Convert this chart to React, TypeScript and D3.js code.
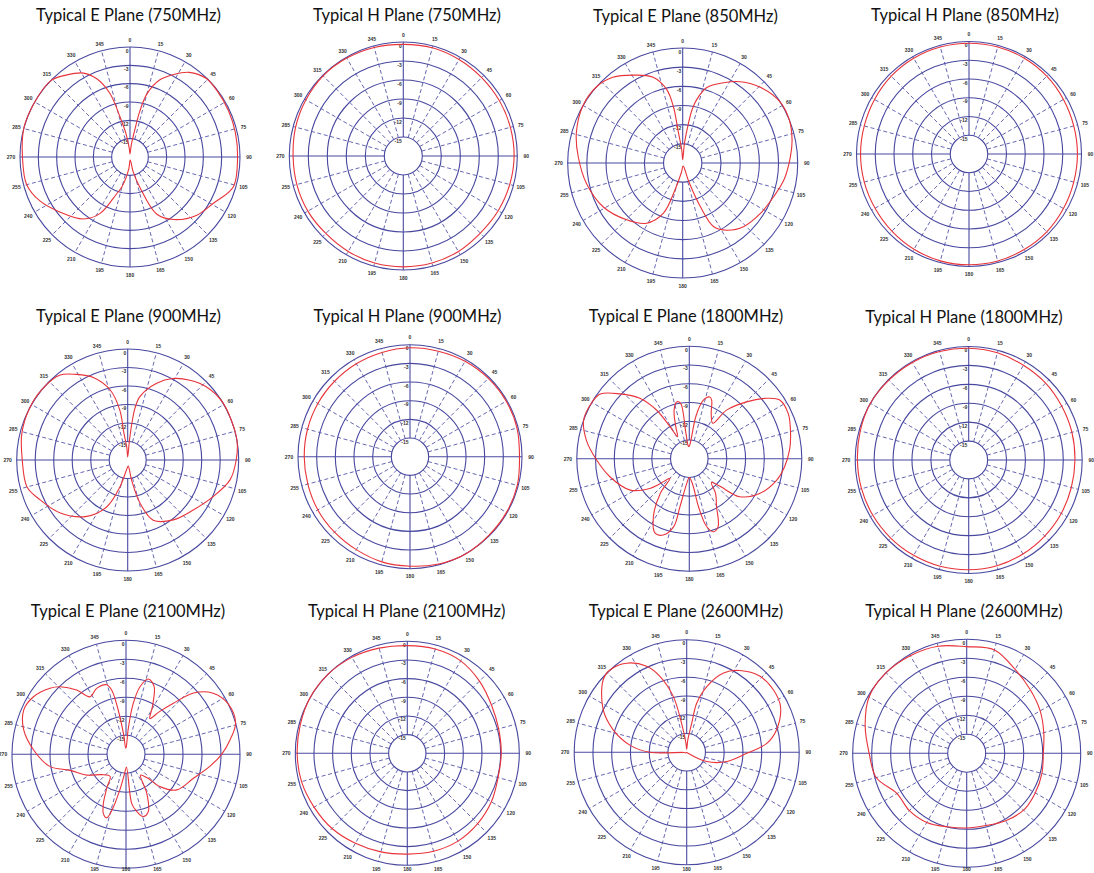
import React from "react";
import * as d3 from "d3";

type Pt = [number, number]; // [angle in degrees, level in dB]

const DB_MIN = -18;
const RING_TICKS = [0, -3, -6, -9, -12, -15];
const ANGLE_TICKS = d3.range(0, 360, 15);

const TITLES = [
  "Typical E Plane (750MHz)",
  "Typical H Plane (750MHz)",
  "Typical E Plane (850MHz)",
  "Typical H Plane (850MHz)",
  "Typical E Plane (900MHz)",
  "Typical H Plane (900MHz)",
  "Typical E Plane (1800MHz)",
  "Typical H Plane (1800MHz)",
  "Typical E Plane (2100MHz)",
  "Typical H Plane (2100MHz)",
  "Typical E Plane (2600MHz)",
  "Typical H Plane (2600MHz)",
];

const E750: Pt[] = [
  [0, -17.5], [6, -16], [10, -13.5], [12, -10.5], [15, -7.3], [21, -4.5], [28, -2.7], [35, -1.1],
  [44, -0.1], [53, -0.1], [65, -0.2], [77, -0.3], [90, -0.4], [106, -0.4], [119, -2.4], [131, -3.5],
  [145, -5.5], [155, -7.7], [162, -12.8], [168, -15.5], [176, -17.5], [186, -16], [195, -13],
  [200, -11.6], [208, -7.5], [217, -5.3], [232, -3.4], [244, -1.6], [255, -0.5], [270, -0.4],
  [285, 0], [300, 0], [314, 0], [322, -1], [331, -2.3], [337, -4.1], [342.5, -7.1], [346, -11.2],
  [350, -14], [355, -16.5],
];

const H750: Pt[] = [
  [0, -0.37], [15, -0.3], [30, -0.4], [45, -0.5], [60, -0.5], [75, -0.5], [90, -0.5], [105, -0.6],
  [120, -0.7], [135, -0.8], [150, -0.6], [165, -0.5], [180, -0.5], [195, -0.5], [210, -0.6],
  [225, -0.7], [240, -0.6], [255, -0.6], [270, -0.6], [285, -0.4], [300, -0.25], [315, -0.1],
  [330, -0.15], [345, -0.25],
];

const E850: Pt[] = [
  [0, -17.5], [5, -15], [8, -12], [10, -9.5], [12.5, -7.8], [17.7, -5.6], [27, -3.9], [35.4, -2.4],
  [46, -1], [58, 0], [68, 0], [78, -0.5], [86.5, -1.1], [99, -1.9], [110, -2.8], [123, -3.5],
  [136, -4.2], [146.6, -5.4], [154, -6.9], [158, -10.7], [162, -15], [172, -17.5], [188, -16.5],
  [196, -13.6], [201, -9.6], [211, -7], [224.7, -5.5], [241, -3.8], [258, -2.6], [273.7, -1.6],
  [285.8, -0.7], [299.7, 0], [311.7, 0], [320.8, -0.7], [330.5, -2.2], [341, -3.8], [347.7, -6.2],
  [350.6, -9], [352, -13.2], [356, -16],
];

const H850: Pt[] = [
  [0, -0.27], [15, -0.27], [30, -0.3], [45, -0.4], [60, -0.55], [75, -0.65], [90, -0.65],
  [105, -0.65], [120, -0.55], [135, -0.4], [150, -0.35], [165, -0.27], [180, -0.27], [195, -0.3],
  [210, -0.4], [225, -0.55], [240, -0.65], [255, -0.65], [270, -0.65], [285, -0.65], [300, -0.55],
  [315, -0.4], [330, -0.3], [345, -0.27],
];

const E900: Pt[] = [
  [0, -17.5], [5, -15], [6.5, -12], [8, -9.5], [11, -7.5], [20.7, -4.7], [29, -2.9], [38, -1.6],
  [47, -0.6], [58, 0], [69, 0], [80, 0], [90, -0.4], [101, -1.1], [113, -2.9], [127, -4.6],
  [142.7, -5.8], [157, -7.4], [164, -10.7], [169, -14.7], [175, -17], [186, -16.5], [196, -13.5],
  [204, -9.7], [216, -6.7], [231.8, -4.1], [245.5, -2.4], [255, -1.1], [270, -0.9], [284, -0.3],
  [298, 0], [310, 0], [321.5, -0.4], [329, -1.8], [337.4, -3.5], [346, -6.3], [351, -9.8],
  [352, -13.6], [356, -16],
];

const H900: Pt[] = [
  [0, -0.5], [15, -0.45], [30, -0.3], [45, -0.2], [60, -0.15], [75, -0.2], [90, -0.4], [105, -0.15],
  [120, -0.1], [135, -0.1], [150, 0], [165, -0.15], [180, -0.4], [195, -0.5], [210, -0.75],
  [225, -0.85], [240, -0.9], [255, -1], [270, -1], [285, -0.95], [300, -0.9], [315, -0.85],
  [330, -0.75], [345, -0.65],
];

const E1800: Pt[] = [
  [0, -16], [5, -15], [9, -11], [13.4, -8.4], [18.4, -7.6], [21, -8], [26, -10], [33.4, -11.2],
  [37.5, -8.2], [45.2, -5.1], [52, -2.3], [57, -0.75], [65.4, -0.6], [76, -1.3], [85, -1.9],
  [94.8, -2.7], [103.7, -3.6], [116, -5.4], [127, -7.9], [132, -11.4], [137, -12.8], [143, -11],
  [150.3, -9.2], [157, -6.2], [161.8, -5.7], [165.7, -6.8], [169, -10], [173, -14], [180, -15],
  [186, -14], [191, -10.2], [193, -6.8], [198.8, -5.1], [204.7, -4.9], [211.8, -7.1], [220, -10.8],
  [224.5, -13.6], [230, -11.5], [233, -10.1], [242, -7.3], [257, -5], [269, -3.2], [280, -1.3],
  [290, 0], [300, 0], [306, -0.4], [313, -2.8], [320.7, -5.5], [326, -8.6], [328.9, -12],
  [332, -14], [337, -12.5], [342.5, -9.9], [347.5, -8.7], [351, -9], [352.5, -13.9], [356, -16],
];

const H1800: Pt[] = [
  [0, -0.27], [15, -0.4], [30, -0.65], [45, -0.75], [60, -0.95], [75, -1.05], [90, -1.15],
  [105, -1.15], [120, -1.05], [135, -0.95], [150, -0.8], [165, -0.65], [180, -0.6], [195, -0.55],
  [210, -0.55], [225, -0.5], [240, -0.45], [255, -0.4], [270, -0.35], [285, -0.2], [300, 0],
  [315, -0.1], [330, -0.15], [345, -0.2],
];

const E2100: Pt[] = [
  [0, -17], [5, -14], [8, -10], [11.7, -7.1], [16.6, -5.6], [22.5, -6.4], [29, -9.4], [33.7, -11.2],
  [38, -9.5], [42.9, -7], [47.8, -3.6], [55, -1.2], [63.9, 0], [74, 0], [82, -1.4], [90, -2.9],
  [98, -4.6], [109.6, -6.7], [125, -8.2], [133.6, -10.6], [138, -13], [145, -14], [152, -11],
  [158.7, -8.3], [164.5, -7.8], [170, -9], [173.4, -10.2], [178, -16], [184, -15], [190, -12.2],
  [194, -9], [197, -7.5], [201, -8], [204.8, -9.5], [210, -12], [215.6, -13.7], [230, -13],
  [242, -11], [254, -8.8], [261, -5.8], [272.7, -3.4], [283.4, -1.4], [293.5, -0.4], [301.9, -0.8],
  [311, -2.1], [315.7, -3.1], [322.5, -5.2], [328, -7.3], [336, -6.6], [344.4, -6.6], [347.4, -7.6],
  [350, -10.9], [353.5, -15.2], [357, -17],
];

const H2100: Pt[] = [
  [0, -0.7], [15, -0.65], [30, -0.85], [45, -1.6], [60, -2.4], [75, -2.8], [90, -2.9], [105, -2.9],
  [120, -2.4], [135, -2.0], [150, -1.7], [165, -1.7], [180, -1.8], [195, -1.6], [210, -1.3],
  [225, -0.9], [240, -0.7], [255, -0.4], [270, -0.3], [285, -0.2], [300, 0], [315, 0], [330, -0.2],
  [345, -0.5],
];

const E2600: Pt[] = [
  [0, -17.5], [5, -16], [9.8, -13.3], [11.5, -10], [17, -7], [24.9, -4], [33, -2.4], [44, -1.1],
  [54, -0.9], [64, -1.3], [76, -3.2], [83.6, -5.1], [91, -8.4], [103, -11.4], [115, -14.5],
  [125, -17.8], [180, -18], [240, -17.8], [266, -17.6], [270, -12.1], [277, -8.9], [287, -5.7],
  [297, -3], [311, -0.3], [317, 0], [326, -0.8], [335, -2.8], [340.6, -5.1], [346.5, -8.8],
  [350, -13.3], [355, -16.5],
];

const H2600: Pt[] = [
  [0, -1.16], [15, -1.1], [30, -2.7], [45, -3.8], [60, -4.6], [75, -5.4], [90, -5.9], [105, -5.7],
  [120, -5.5], [135, -5.3], [150, -5.7], [165, -6.2], [180, -6.2], [195, -6], [210, -5.4],
  [225, -5.2], [240, -5.3], [255, -3.2], [270, -2.6], [285, -1.4], [300, -0.2], [315, 0],
  [330, -0.2], [345, -0.5],
];

const PATTERNS: Pt[][] = [E750, H750, E850, H850, E900, H900, E1800, H1800, E2100, H2100, E2600, H2600];

// layout (positions / sizes), kept apart from the data
const LAYOUT = [
  { cx: 130, cy: 157, R: 110, tx: 128.5, ty: 21 },
  { cx: 403.3, cy: 156, R: 114, tx: 407, ty: 21 },
  { cx: 682.7, cy: 163, R: 115, tx: 685.5, ty: 21.5 },
  { cx: 969, cy: 154, R: 112.5, tx: 965, ty: 21 },
  { cx: 127.7, cy: 460, R: 111, tx: 128.5, ty: 322 },
  { cx: 410, cy: 456.7, R: 112, tx: 407.5, ty: 322 },
  { cx: 689.3, cy: 458.7, R: 112.5, tx: 686, ty: 322 },
  { cx: 968.7, cy: 460, R: 113.5, tx: 964, ty: 322.5 },
  { cx: 126, cy: 754.3, R: 114, tx: 128, ty: 617 },
  { cx: 407.3, cy: 753.3, R: 112, tx: 406.7, ty: 617 },
  { cx: 686.7, cy: 752.3, R: 112.5, tx: 686, ty: 617 },
  { cx: 966.7, cy: 753.3, R: 114, tx: 964, ty: 617 },
];

const H = 873;
const GRID = "#4848a0";
const SPOKE = "#5656aa";
const TRACE = "#e8333a";

function Polar({ data, title, cx, cy, R, tx, ty }: { data: Pt[]; title: string; cx: number; cy: number; R: number; tx: number; ty: number }) {
  const r = d3.scaleLinear().domain([DB_MIN, 0]).range([0, R]);
  const rin = r(-15);
  const rad = (a: number) => (a * Math.PI) / 180;
  const line = d3
    .lineRadial<Pt>()
    .angle((d) => rad(d[0]))
    .radius((d) => r(Math.max(DB_MIN, Math.min(0.2, d[1]))))
    .curve(d3.curveCatmullRomClosed.alpha(0.5));
  return (
    <g>
      <text x={tx} y={ty} textAnchor="middle" fontFamily="Lato, 'Open Sans', sans-serif" fontSize={16.5} fill="#111">
        {title}
      </text>
      <g transform={`translate(${cx},${cy})`}>
        {RING_TICKS.map((t) => (
          <circle key={t} r={r(t)} fill="none" stroke={GRID} strokeWidth={1.1} />
        ))}
        {ANGLE_TICKS.map((a) => {
          const major = a % 90 === 0;
          const s = Math.sin(rad(a));
          const c = -Math.cos(rad(a));
          return (
            <line
              key={a}
              x1={rin * s}
              y1={rin * c}
              x2={R * s}
              y2={R * c}
              stroke={major ? GRID : SPOKE}
              strokeWidth={major ? 1.1 : 0.9}
              strokeDasharray={major ? undefined : "4,2.6"}
            />
          );
        })}
        {ANGLE_TICKS.map((a) => {
          const s = Math.sin(rad(a));
          const c = -Math.cos(rad(a));
          const off = R + (a === 90 || a === 270 ? 9 : 7.5);
          // keep the lowest labels on the page
          const y = Math.min(off * c, H - 4 - cy);
          return (
            <text
              key={"l" + a}
              x={off * s}
              y={y}
              textAnchor="middle"
              dominantBaseline="central"
              fontFamily="'Liberation Sans', Arial, sans-serif"
              fontWeight="bold"
              fontSize={5}
              fill="#333"
            >
              {a}
            </text>
          );
        })}
        {RING_TICKS.map((t) => (
          <text
            key={"r" + t}
            x={-1.5}
            y={-r(t) + 3.5}
            textAnchor="end"
            dominantBaseline="central"
            fontFamily="'Liberation Sans', Arial, sans-serif"
            fontWeight="bold"
            fontSize={5}
            fill="#333"
          >
            {t}
          </text>
        ))}
        <path d={line(data) || ""} fill="none" stroke={TRACE} strokeWidth={1.1} />
      </g>
    </g>
  );
}

export default function App() {
  return (
    <svg
      width={1094}
      height={H}
      viewBox={`0 0 1094 ${H}`}
      style={{ position: "absolute", left: 0, top: 0, background: "#fff" }}
    >
      <rect width={1094} height={H} fill="#fff" />
      {PATTERNS.map((p, i) => (
        <Polar key={i} data={p} title={TITLES[i]} {...LAYOUT[i]} />
      ))}
    </svg>
  );
}
